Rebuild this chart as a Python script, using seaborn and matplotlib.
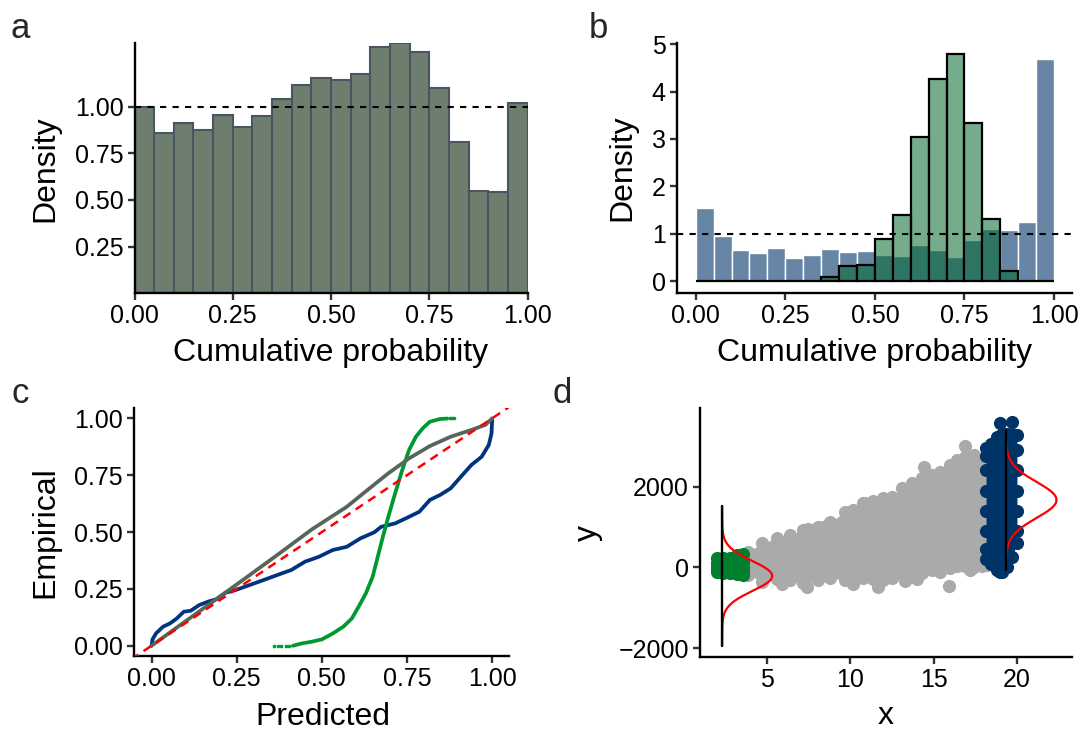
import numpy as np
import matplotlib
matplotlib.use("Agg")
import matplotlib.pyplot as plt
from matplotlib.ticker import FormatStrFormatter
import seaborn as sns

# ---------------- data ----------------
# panel a: histogram of cumulative probabilities (20 bins of width 0.05)
bin_edges = [round(0.05 * i, 2) for i in range(21)]
dens_a = [1.00, 0.86, 0.91, 0.877, 0.957, 0.889, 0.952, 1.039, 1.116, 1.153,
          1.143, 1.175, 1.318, 1.339, 1.293, 1.102, 0.812, 0.548, 0.543, 1.018]

# panel b: two overlaid histograms
dens_b_blue = [1.545, 0.948, 0.653, 0.590, 0.709, 0.478, 0.555, 0.674, 0.611, 0.632,
               0.560, 0.527, 0.772, 0.653, 0.513, 0.878, 1.096, 1.074, 1.257, 4.698]
dens_b_green = [0, 0, 0, 0, 0, 0, 0, 0.091, 0.323, 0.337,
                0.885, 1.397, 3.034, 4.270, 4.789, 3.343, 1.320, 0.204, 0, 0]

# panel c: calibration curves (predicted vs empirical)
blue_c_x = [0.0, 0.003, 0.013, 0.034, 0.054, 0.074, 0.095, 0.115, 0.14, 0.166, 0.191,
            0.217, 0.247, 0.288, 0.329, 0.369, 0.41, 0.451, 0.491, 0.532, 0.573,
            0.613, 0.654, 0.674, 0.715, 0.756, 0.786, 0.817, 0.847, 0.878, 0.908,
            0.939, 0.969, 0.99, 0.998, 1.0]
blue_c_y = [0.0, 0.028, 0.054, 0.084, 0.098, 0.12, 0.15, 0.154, 0.179, 0.194, 0.205,
            0.233, 0.245, 0.267, 0.289, 0.311, 0.333, 0.37, 0.391, 0.421, 0.435,
            0.472, 0.499, 0.523, 0.538, 0.567, 0.589, 0.641, 0.663, 0.692, 0.743,
            0.795, 0.831, 0.883, 0.934, 0.996]
grey_c_x = [0.0, 0.064, 0.166, 0.268, 0.369, 0.471, 0.573, 0.634, 0.695, 0.756,
            0.817, 0.878, 0.939, 0.98, 1.0]
grey_c_y = [0.0, 0.069, 0.179, 0.289, 0.399, 0.512, 0.611, 0.685, 0.758, 0.824,
            0.878, 0.919, 0.949, 0.971, 1.0]
green_c_x = [0.415, 0.44, 0.471, 0.5, 0.532, 0.563, 0.588, 0.608, 0.629, 0.649,
             0.664, 0.679, 0.695, 0.715, 0.736, 0.756, 0.776, 0.796, 0.817, 0.847, 0.868]
green_c_y = [0.0, 0.01, 0.018, 0.028, 0.054, 0.084, 0.12, 0.172, 0.23, 0.303,
             0.391, 0.479, 0.567, 0.67, 0.773, 0.861, 0.919, 0.956, 0.985, 0.997, 0.999]
green_tail_x = [0.359, 0.37, 0.381, 0.394, 0.404, 0.875, 0.881, 0.888]
green_tail_y = [0.0, 0.0, 0.0, 0.0, 0.0, 1.0, 1.0, 1.0]

# panel d: scatter cloud, described by its outline (dot centres) and outliers
cloud_x = [3.9, 4.7, 5.6, 6.4, 7.2, 8.1, 8.8, 9.7, 10.2, 10.8, 11.4, 12.0, 12.5,
           13.1, 13.7, 14.3, 14.9, 15.4, 16.0, 16.4, 16.9, 17.4, 17.9, 18.2, 18.6]
cloud_hi = [385, 594, 718, 801, 925, 1007, 1115, 1375, 1420, 1586, 1644, 1726, 1751,
            1958, 2082, 2225, 2288, 2371, 2536, 2660, 2725, 2784, 2660, 2495, 2450]
cloud_lo = [-189, -354, -295, -325, -395, -325, -272, -305, -313, -272, -295, -305, -272,
            -148, -125, -135, -65, -125, -25, 25, 45, 18, 45, 59, 80]
grey_out_x = [11.7, 15.9, 14.0, 16.9, 14.4, 7.4, 10.2, 7.5, 8.4, 10.9, 13.3, 5.9, 17.2]
grey_out_y = [-500, -460, -300, 3000, 2480, -500, -420, 950, 1010, 1600, -330, -420, -60]

green_d_x = [2.0, 2.4, 2.8, 3.2, 3.55]
green_d_hi = [220, 230, 240, 300, 330]
green_d_lo = [-120, -135, -150, -170, -190]
green_edge_x = [2.0, 2.0, 2.0, 3.55, 3.55, 3.55]
green_edge_y = [0, 100, -50, 0, 120, -80]

blue_d_x = [18.15, 18.45, 18.8, 19.1, 19.4, 19.7, 20.0]
blue_d_hi = [2950, 3050, 3200, 3300, 3300, 3300, 3280]
blue_d_lo = [200, 80, -60, -110, 0, 250, 600]
blue_edge_x = [18.15, 18.15, 18.15, 18.15, 18.15, 18.15, 20.0, 20.0, 20.0, 20.0, 20.0]
blue_edge_y = [450, 900, 1400, 1900, 2400, 2750, 900, 1400, 1900, 2400, 2900]
blue_out_x = [19.0, 19.7, 18.8, 19.0]
blue_out_y = [3570, 3610, 3240, -110]

# normal-density overlays in panel d: baseline x, mean, sd, peak width, line half-span
dens_green = dict(base=2.33, mean=-215, sd=370, peak=3.0, span=1735)
dens_blue = dict(base=19.34, mean=1670, sd=446, peak=3.03, span=1735)

# ---------------- style ----------------
sns.set_theme(style="ticks")
plt.rcParams["font.family"] = ["Liberation Sans", "DejaVu Sans"]
plt.rcParams.update({
    "axes.linewidth": 1.7,
    "axes.edgecolor": "black",
    "xtick.major.width": 1.7,
    "ytick.major.width": 1.7,
    "xtick.major.size": 5,
    "ytick.major.size": 5,
    "xtick.color": "#333333",
    "ytick.color": "#333333",
    "xtick.labelcolor": "black",
    "ytick.labelcolor": "black",
    "xtick.labelsize": 18,
    "ytick.labelsize": 18,
    "axes.labelsize": 23,
    "axes.labelcolor": "black",
    "xtick.major.pad": 3,
    "ytick.major.pad": 3,
})

W, H = 1085, 731
fig = plt.figure(figsize=(W / 100, H / 100), dpi=100)


def add_ax(x0, x1, y_top, y_bot):
    return fig.add_axes([x0 / W, 1 - y_bot / H, (x1 - x0) / W, (y_bot - y_top) / H])


ax_a = add_ax(134.5, 527.6, 43.3, 293.3)
ax_b = add_ax(676.7, 1072.0, 43.3, 292.7)
ax_c = add_ax(133.8, 508.9, 408.3, 656.0)
ax_d = add_ax(700.0, 1072.0, 408.3, 657.3)

centers = [(bin_edges[i] + bin_edges[i + 1]) / 2 for i in range(20)]

# ---------------- panel a ----------------
sns.histplot(x=centers, weights=dens_a, bins=bin_edges, ax=ax_a,
             color="#6e7e6e", alpha=1, edgecolor="#4a5562", linewidth=1.5)
ax_a.plot([0, 1], [1, 1], color="black", lw=1.5, dashes=(3, 3))
ax_a.set_xlim(0, 1)
ax_a.set_ylim(0, 1.339)
ax_a.set_xticks([0, 0.25, 0.5, 0.75, 1.0])
ax_a.set_yticks([0.25, 0.5, 0.75, 1.0])

# ---------------- panel b ----------------
sns.histplot(x=centers, weights=dens_b_blue, bins=bin_edges, ax=ax_b,
             color="#6786a6", alpha=1, edgecolor="white", linewidth=1.0)
sns.histplot(x=centers, weights=dens_b_green, bins=bin_edges, ax=ax_b,
             color="#00672b", alpha=0.54, edgecolor="black", linewidth=1.6)
ax_b.axhline(1, color="black", lw=1.5, dashes=(3, 3))
ax_b.set_xlim(-0.053, 1.05)
ax_b.set_ylim(-0.245, 5.02)
ax_b.set_xticks([0, 0.25, 0.5, 0.75, 1.0])
ax_b.set_yticks([0, 1, 2, 3, 4, 5])

for ax in (ax_a, ax_b):
    ax.xaxis.set_major_formatter(FormatStrFormatter("%.2f"))
    ax.set_xlabel("Cumulative probability")
    ax.set_ylabel("Density")
ax_a.yaxis.set_major_formatter(FormatStrFormatter("%.2f"))

# ---------------- panel c ----------------
ax_c.plot([-0.06, 1.06], [-0.06, 1.06], color="#ff0000", lw=1.8, dashes=(3.5, 2.5), zorder=4)
sns.lineplot(x=blue_c_x, y=blue_c_y, ax=ax_c, sort=False, estimator=None,
             color="#003380", lw=2.7, zorder=2)
sns.lineplot(x=green_c_x, y=green_c_y, ax=ax_c, sort=False, estimator=None,
             color="#00992f", lw=2.7, zorder=2)
sns.scatterplot(x=green_tail_x, y=green_tail_y, ax=ax_c, color="#00992f", s=7,
                linewidth=0, zorder=2)
sns.lineplot(x=grey_c_x, y=grey_c_y, ax=ax_c, sort=False, estimator=None,
             color="#56665a", lw=2.7, zorder=3)
ax_c.set_xlim(-0.052, 1.049)
ax_c.set_ylim(-0.045, 1.044)
ax_c.set_xticks([0, 0.25, 0.5, 0.75, 1.0])
ax_c.set_yticks([0, 0.25, 0.5, 0.75, 1.0])
ax_c.xaxis.set_major_formatter(FormatStrFormatter("%.2f"))
ax_c.yaxis.set_major_formatter(FormatStrFormatter("%.2f"))
ax_c.set_xlabel("Predicted")
ax_c.set_ylabel("Empirical")

# ---------------- panel d ----------------
DOT = 90
grey = "#aaaaaa"
ax_d.fill_between(cloud_x, cloud_lo, cloud_hi, color=grey, lw=0, zorder=1)
sns.scatterplot(x=cloud_x + cloud_x + grey_out_x, y=cloud_hi + cloud_lo + grey_out_y,
                ax=ax_d, color=grey, s=DOT, linewidth=0, zorder=1)

green_d = "#00802f"
ax_d.fill_between(green_d_x, green_d_lo, green_d_hi, color=green_d, lw=0, zorder=2)
sns.scatterplot(x=green_d_x + green_d_x + green_edge_x,
                y=green_d_hi + green_d_lo + green_edge_y,
                ax=ax_d, color=green_d, s=DOT, linewidth=0, zorder=2)

navy = "#003366"
ax_d.fill_between(blue_d_x, blue_d_lo, blue_d_hi, color=navy, lw=0, zorder=3)
sns.scatterplot(x=blue_d_x + blue_d_x + blue_edge_x + blue_out_x,
                y=blue_d_hi + blue_d_lo + blue_edge_y + blue_out_y,
                ax=ax_d, color=navy, s=DOT, linewidth=0, zorder=3)

for p in (dens_green, dens_blue):
    yy = np.linspace(p["mean"] - p["span"], p["mean"] + p["span"], 300)
    xx = p["base"] + p["peak"] * np.exp(-0.5 * ((yy - p["mean"]) / p["sd"]) ** 2)
    ax_d.plot(xx, yy, color="#ff0000", lw=1.6, zorder=5)
    ax_d.plot([p["base"], p["base"]], [yy[0], yy[-1]], color="black", lw=1.7, zorder=6)

ax_d.set_xlim(1.0, 23.3)
ax_d.set_ylim(-2230, 3941)
ax_d.set_xticks([5, 10, 15, 20])
ax_d.set_yticks([-2000, 0, 2000])
ax_d.set_xlabel("x")
ax_d.set_ylabel("y")

# ---------------- common axis styling ----------------
for ax in (ax_a, ax_b, ax_c, ax_d):
    sns.despine(ax=ax)
    ax.grid(False)
    ax.set_facecolor("white")

label_pos = {
    ax_a: ((-0.207, 0.5), (0.5, -0.27)),
    ax_b: ((-0.116, 0.5), (0.5, -0.273)),
    ax_c: ((-0.215, 0.5), (0.503, -0.279)),
    ax_d: ((-0.279, 0.5), (0.498, -0.268)),
}
for ax, (ypos, xpos) in label_pos.items():
    ax.yaxis.set_label_coords(*ypos)
    ax.yaxis.label.set_va("baseline")
    ax.xaxis.set_label_coords(*xpos)
    ax.xaxis.label.set_va("baseline")

for letter, x, y in (("a", 10, 38), ("b", 589, 38), ("c", 11, 403), ("d", 553, 402.7)):
    fig.text(x / W, 1 - y / H, letter, fontsize=25, ha="left", va="baseline")

fig.savefig("out.png", dpi=100, facecolor="white")
